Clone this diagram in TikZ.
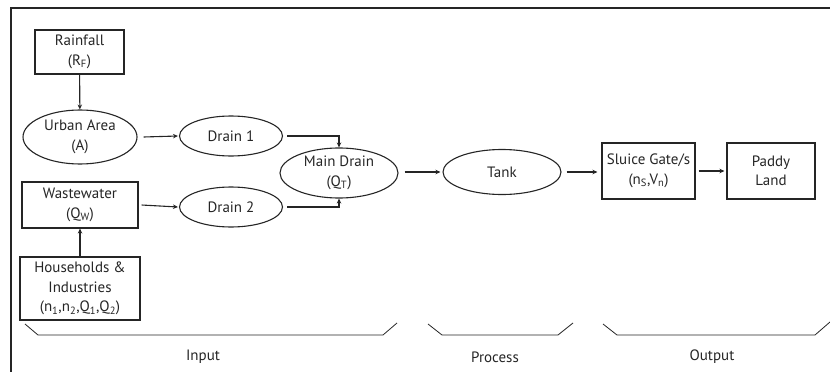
\documentclass[tikz,border=0pt]{standalone}
\usepackage{fontspec}
\setmainfont{PT Sans}
\usetikzlibrary{arrows.meta,shapes.geometric}
\definecolor{ink}{HTML}{252525}
\tikzset{
  every node/.style={font=\fontsize{15}{19.5}\selectfont,text=ink,align=center,inner sep=0pt},
  boxnode/.style={draw=ink,line width=1.1pt,rectangle},
  ovalnode/.style={draw=ink,line width=1.1pt,ellipse},
  flow/.style={draw=ink,line width=1.1pt,-{Stealth[length=5pt,width=4.5pt]}},
  brace/.style={draw=ink,line width=0.8pt},
}
\newcommand{\sub}[1]{\textsubscript{#1}}
\begin{document}
\begin{tikzpicture}[x=1pt,y=-1pt]
\useasboundingbox (0,0) rectangle (830,372);
% frame
\draw[ink,line width=1.1pt](11,372)--(11,8)--(830,8);
% input side
\node[boxnode,minimum width=89,minimum height=44](rain) at (79.5,52){Rainfall\\(R\sub{F})};
\node[ovalnode,minimum width=114,minimum height=54](urban) at (80,137){Urban Area\\(A)};
\node[boxnode,minimum width=116,minimum height=46](waste) at (80,205){Wastewater\\(Q\sub{W})};
\node[boxnode,minimum width=120,minimum height=63](house) at (80,288.5){Households \&\\Industries\\(n\sub{1},n\sub{2},Q\sub{1},Q\sub{2})};
\node[ovalnode,minimum width=103,minimum height=40](drainA) at (231,136){Drain 1};
\node[ovalnode,minimum width=103,minimum height=40](drainB) at (231,207){Drain 2};
\node[ovalnode,minimum width=118,minimum height=50](main) at (339,173){Main Drain\\(Q\sub{T})};
% process and output
\node[ovalnode,minimum width=118,minimum height=45](tank) at (502,172){Tank};
\node[boxnode,minimum width=93,minimum height=56](gate) at (648.5,171){Sluice Gate/s\\(n\sub{S},V\sub{n})};
\node[boxnode,minimum width=88,minimum height=56](paddy) at (771,171){Paddy\\Land};
% connectors
\coordinate(mainTop) at (main.north);
\coordinate(mainBot) at (main.south);
\draw[flow](rain)--(urban);
\draw[flow](house)--(waste);
\draw[flow]([xshift=6pt]urban.east)--([xshift=-1pt]drainA.west);
\draw[flow]([xshift=3pt]waste.east)--([xshift=-1pt]drainB.west);
\draw[flow]([xshift=4pt]drainA.east)-|(mainTop);
\draw[flow]([xshift=4pt]drainB.east)-|(mainBot);
\draw[flow]([xshift=6pt]main.east|-tank.west)--([xshift=-2pt]tank.west);
\draw[flow]([xshift=5pt]tank.east)--([xshift=-4pt]gate.west|-tank.east);
\draw[flow]([xshift=3pt]gate.east)--([xshift=-2pt]paddy.west|-gate.east);
% braces
\draw[brace](25,324)--(38,335)--(383,335)--(397,323);
\draw[brace](428,324)--(442,335)--(558,335)--(573,323);
\draw[brace](603,324)--(617,335)--(815,335)--(830,322);
\node(input) at (203,357){Input};
\node(process) at (495,357){Process};
\node(output) at (712,357){Output};
\end{tikzpicture}
\end{document}
